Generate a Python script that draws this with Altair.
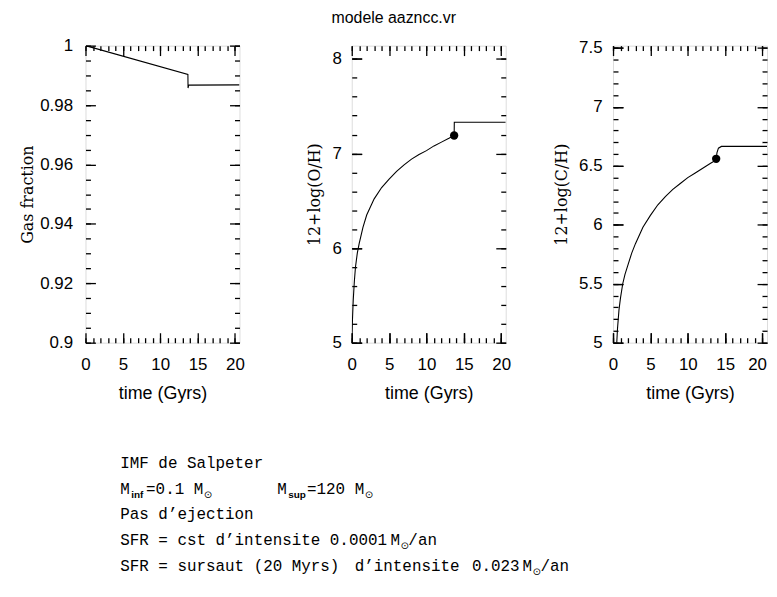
import altair as alt
import pandas as pd

# ---------------- data ----------------
t_gas = [0.0, 13.7, 13.72, 13.8, 20.6]
gas = [1.0, 0.9903, 0.9857, 0.9867, 0.9868]

t_oh = [0.02, 0.1, 0.2, 0.35, 0.5, 0.75, 1.0, 1.5, 2, 3, 4, 5, 6, 7, 8, 9, 10,
        11, 12, 13, 13.7, 13.72, 20.6]
oh = [5.0, 5.25, 5.45, 5.65, 5.8, 5.95, 6.05, 6.22, 6.35, 6.52, 6.64, 6.73, 6.81,
      6.88, 6.94, 6.99, 7.03, 7.08, 7.12, 7.16, 7.19, 7.33, 7.33]

t_ch = [0.5, 0.6, 0.8, 1.0, 1.3, 1.6, 2, 2.5, 3, 4, 5, 6, 7, 8, 9, 10, 11, 12, 13,
        13.8, 13.85, 13.9, 14.1, 14.5, 15, 20.6]
ch = [5.0, 5.12, 5.28, 5.38, 5.5, 5.58, 5.66, 5.76, 5.84, 5.98, 6.08, 6.17, 6.24,
      6.3, 6.35, 6.4, 6.44, 6.48, 6.52, 6.55, 6.58, 6.61, 6.65, 6.665, 6.665, 6.665]

dot_oh = {"t": [13.7], "v": [7.19]}
dot_ch = {"t": [13.8], "v": [6.56]}

x_domain = [0, 20.6]
x_major = [0, 5, 10, 15, 20]
x_minor = list(range(0, 21))

gas_domain = [0.9, 1.0]
gas_major = [0.9, 0.92, 0.94, 0.96, 0.98, 1.0]
gas_minor = [round(0.9 + 0.005 * i, 3) for i in range(21)]

oh_domain = [5, 8.14]
oh_major = [5, 6, 7, 8]
oh_minor = [round(5 + 0.2 * i, 1) for i in range(16)]

ch_domain = [5, 7.52]
ch_major = [5, 5.5, 6, 6.5, 7, 7.5]
ch_minor = [round(5 + 0.1 * i, 1) for i in range(26)]

title_text = "modele aazncc.vr"
# annotation pieces: line number, x position (page px), text, kind (n=normal, s=subscript, o=sun symbol)
note_pieces = [
    (0, 122, "IMF de Salpeter", "n"),
    (1, 122, "M", "n"), (1, 133, "inf", "s"), (1, 148, "=0.1 M", "n"), (1, 206, "⊙", "o"),
    (1, 280, "M", "n"), (1, 291, "sup", "s"), (1, 310, "=120 M", "n"), (1, 368, "⊙", "o"),
    (2, 122, "Pas d’ejection", "n"),
    (3, 122, "SFR = cst d’intensite 0.0001", "n"), (3, 394, "M", "n"), (3, 404, "⊙", "o"), (3, 412, "/an", "n"),
    (4, 122, "SFR = sursaut (20 Myrs)", "n"),
    (4, 358, "d’intensite", "n"), (4, 476, "0.023", "n"), (4, 527, "M", "n"),
    (4, 537, "⊙", "o"), (4, 545, "/an", "n"),
]

SANS = "Liberation Sans"
SERIF = "DejaVu Serif"
MONO = "Liberation Mono"
PW, PH = 155, 299
MAJ, MIN = 10, 5
PLOT_LEFT = 87
LINE_GAP = 25.9

LABEL_EXPR = "datum.value % 1 == 0 ? datum.label : datum.label + '\u00a0'"


def panel(t, v, dom, ymaj, ymin, ytitle, lpad, tpad, dot=None, last=False):
    df = pd.DataFrame({"t": t, "v": v})
    xs = alt.Scale(domain=x_domain, nice=False, zero=False)
    ys = alt.Scale(domain=dom, nice=False, zero=False)
    base = alt.Chart(df)

    def xa(orient, values, size, main=False):
        kw = dict(orient=orient, values=values, tickSize=size, offset=-size,
                  domain=False, grid=False, tickColor="black", tickWidth=1.3)
        if main:
            kw.update(labels=True, title="time (Gyrs)", format="~g", labelFont=SANS,
                      labelFontSize=17, labelColor="black", labelPadding=14,
                      titleFont=SANS, titleFontSize=18, titleFontWeight="normal",
                      titleColor="black", titlePadding=12, labelFlush=False)
            if last:
                kw.update(
                    labelAlign={"condition": {"test": "datum.value == 20", "value": "right"},
                                "value": "center"},
                    labelOffset={"condition": {"test": "datum.value == 20", "value": 4},
                                 "value": 0},
                )
        else:
            kw.update(labels=False, title=None)
        return alt.Axis(**kw)

    def ya(orient, values, size, main=False):
        kw = dict(orient=orient, values=values, tickSize=size, offset=-size,
                  domain=False, grid=False, tickColor="black", tickWidth=1.3)
        if main:
            kw.update(labels=True, title=ytitle, format="~g", labelExpr=LABEL_EXPR,
                      labelFont=SANS, labelFontSize=17, labelColor="black",
                      labelPadding=lpad, titleFont=SERIF, titleFontSize=16,
                      titleFontWeight="normal", titleColor="black",
                      titlePadding=tpad, labelFlush=False)
        else:
            kw.update(labels=False, title=None)
        return alt.Axis(**kw)

    line = base.mark_line(color="black", strokeWidth=1.1, clip=True).encode(
        x=alt.X("t:Q", scale=xs, axis=xa("bottom", x_major, MAJ, True)),
        y=alt.Y("v:Q", scale=ys, axis=ya("left", ymaj, MAJ, True)),
    )
    top = base.mark_line(opacity=0).encode(
        x=alt.X("t:Q", scale=xs, axis=xa("top", x_major, MAJ)),
        y=alt.Y("v:Q", scale=ys, axis=ya("right", ymaj, MAJ)),
    )
    mn1 = base.mark_line(opacity=0).encode(
        x=alt.X("t:Q", scale=xs, axis=xa("bottom", x_minor, MIN)),
        y=alt.Y("v:Q", scale=ys, axis=ya("left", ymin, MIN)),
    )
    mn2 = base.mark_line(opacity=0).encode(
        x=alt.X("t:Q", scale=xs, axis=xa("top", x_minor, MIN)),
        y=alt.Y("v:Q", scale=ys, axis=ya("right", ymin, MIN)),
    )
    layers = [line, top, mn1, mn2]
    if dot is not None:
        layers.append(
            alt.Chart(pd.DataFrame(dot)).mark_point(filled=True, color="black", size=70, opacity=1).encode(
                x=alt.X("t:Q", scale=xs, axis=xa("bottom", x_major, MAJ)),
                y=alt.Y("v:Q", scale=ys, axis=ya("left", ymaj, MAJ)),
            )
        )
    return alt.layer(*layers).resolve_axis(x="independent", y="independent").properties(
        width=PW, height=PH
    )


p1 = panel(t_gas, gas, gas_domain, gas_major, gas_minor, "Gas fraction", 13, 4)
p2 = panel(t_oh, oh, oh_domain, oh_major, oh_minor, "12+log(O/H)", 10.5, 9, dot_oh)
p3 = panel(t_ch, ch, ch_domain, ch_major, ch_minor, "12+log(C/H)", 11, 9, dot_ch, last=True)

row = alt.hconcat(alt.hconcat(p1, p2, spacing=61), p3, spacing=41)

notes = pd.DataFrame(note_pieces, columns=["line", "x", "text", "kind"])
TW, TH = 500, 105
tx = alt.Scale(domain=[PLOT_LEFT, PLOT_LEFT + TW], range=[0, TW])
ty = alt.Scale(domain=[0, 4], range=[14, 14 + 4 * LINE_GAP])
noteb = alt.Chart(notes)
enc = dict(x=alt.X("x:Q", scale=tx, axis=None), y=alt.Y("line:Q", scale=ty, axis=None), text="text:N")
normal = noteb.transform_filter(alt.datum.kind == "n").mark_text(
    align="left", baseline="alphabetic", font=MONO, fontSize=16, color="black"
).encode(**enc)
subs = noteb.transform_filter(alt.datum.kind == "s").mark_text(
    align="left", baseline="alphabetic", font=SANS, fontSize=10, fontWeight="bold", dy=4, color="black"
).encode(**enc)
suns = noteb.transform_filter(alt.datum.kind == "o").mark_text(
    align="left", baseline="alphabetic", font="DejaVu Sans", fontSize=10, dy=4, color="black"
).encode(**enc)
text_panel = alt.layer(normal, subs, suns).properties(
    width=TW, height=TH, view=alt.ViewBackground(stroke="transparent")
)

chart = alt.vconcat(row, text_panel, spacing=50).properties(
    title=alt.TitleParams(title_text, font=SANS, fontSize=16, fontWeight="normal",
                          anchor="middle", color="black", offset=8, dy=-2)
).configure_view(stroke="black", strokeWidth=2).configure(
    padding={"left": 11, "top": 0, "right": 0, "bottom": 0}
)

chart.save("out.html", embed_options={"renderer": "svg", "actions": False})
